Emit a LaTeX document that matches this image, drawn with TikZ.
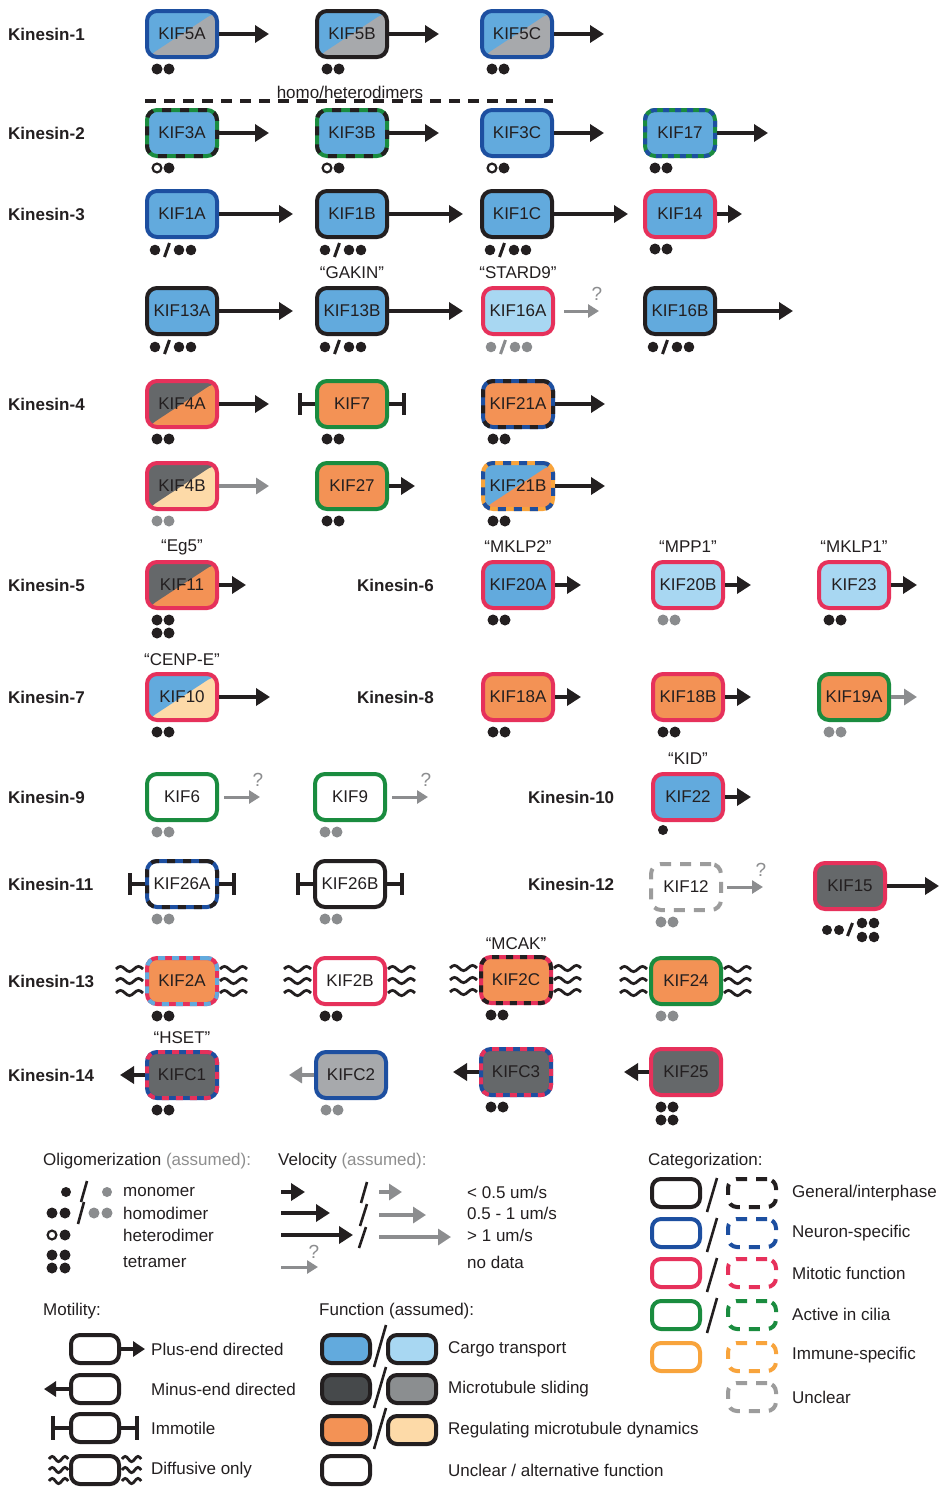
\documentclass[tikz,border=0pt]{standalone}
\usepackage{fontspec}
\setmainfont{Liberation Sans}
\usetikzlibrary{arrows.meta}
\definecolor{kblack}{HTML}{231F20}
\definecolor{kblue}{HTML}{1D4FA0}
\definecolor{kred}{HTML}{E6315B}
\definecolor{kgreen}{HTML}{1A8C3F}
\definecolor{korange}{HTML}{F8A43C}
\definecolor{kgrayb}{HTML}{9C9C9C}
\definecolor{fblue}{HTML}{62AADD}
\definecolor{flblue}{HTML}{A8D7F2}
\definecolor{fdgray}{HTML}{65686A}
\definecolor{fgray}{HTML}{A7A9AC}
\definecolor{fddgray}{HTML}{46494B}
\definecolor{fmgray}{HTML}{8B8E90}
\definecolor{forange}{HTML}{F39255}
\definecolor{florange}{HTML}{FDDAA8}
\definecolor{arrgray}{HTML}{8C8D8F}
\definecolor{dotgray}{HTML}{8A8C8E}
\definecolor{txtgray}{HTML}{8E8E8E}
\newcommand\KFont{\fontsize{17}{20}\selectfont}
\newcommand\QFont{\fontsize{19}{22}\selectfont}
% oligomer marks
\newcommand\OlDD[2]{\fill[#2] ([shift={(-25,35)}]#1.center) circle[radius=5.5pt] ([shift={(-13,35)}]#1.center) circle[radius=5.5pt];}
\newcommand\OlOD[1]{\draw[line width=2.2pt, fill=white, draw=kblack] ([shift={(-25,35)}]#1.center) circle[radius=4.4pt]; \fill[kblack] ([shift={(-13,35)}]#1.center) circle[radius=5.5pt];}
\newcommand\OlMDD[2]{\fill[#2] ([shift={(-27,36)}]#1.center) circle[radius=5.3pt] ([shift={(-3,36)}]#1.center) circle[radius=5.3pt] ([shift={(9,36)}]#1.center) circle[radius=5.3pt]; \draw[#2, line width=3pt] ([shift={(-17.5,43)}]#1.center) -- ([shift={(-12.5,29)}]#1.center);}
\newcommand\OlT[2]{\fill[#2] ([shift={(-25,35)}]#1.center) circle[radius=5.5pt] ([shift={(-13,35)}]#1.center) circle[radius=5.5pt] ([shift={(-25,48)}]#1.center) circle[radius=5.5pt] ([shift={(-13,48)}]#1.center) circle[radius=5.5pt];}
\newcommand\Tends[1]{\draw[tend] (#1.west) -- ++(-15,0) ++(0,-11) -- ++(0,22); \draw[tend] (#1.east) -- ++(15,0) ++(0,-11) -- ++(0,22);}
\newcommand\Waves[1]{\foreach \dy in {-12,0,12}{\draw[wav] ([shift={(-29,\dy)}]#1.west) sin ++(4.5,-2.6) cos ++(4.5,2.6) sin ++(4.5,2.6) cos ++(4.5,-2.6) sin ++(4.5,-2.6) cos ++(4.5,2.6); \draw[wav] ([shift={(1,\dy)}]#1.east) sin ++(4.5,-2.6) cos ++(4.5,2.6) sin ++(4.5,2.6) cos ++(4.5,-2.6) sin ++(4.5,-2.6) cos ++(4.5,2.6);}}
\newcommand\WavesS[1]{\foreach \dy in {-11,0,11}{\draw[wav] ([shift={(-20,\dy)}]#1.west) sin ++(3.2,-2.6) cos ++(3.2,2.6) sin ++(3.2,2.6) cos ++(3.2,-2.6) sin ++(3.2,-2.6) cos ++(3.2,2.6); \draw[wav] ([shift={(1,\dy)}]#1.east) sin ++(3.2,-2.6) cos ++(3.2,2.6) sin ++(3.2,2.6) cos ++(3.2,-2.6) sin ++(3.2,-2.6) cos ++(3.2,2.6);}}
\begin{document}
\begin{tikzpicture}[x=1pt,y=-1pt,
  kin/.style={draw, rounded corners=10pt, minimum width=70pt, minimum height=46pt, inner sep=0pt, line width=4pt, font=\KFont, text=kblack},
  split/.style 2 args={fill=#1, path picture={\fill[#2] (path picture bounding box.south west) -- (path picture bounding box.north east) -- (path picture bounding box.south east) -- cycle;}},
  dtwo/.style n args={3}{draw=#1, postaction={draw=#2, line width=4pt, dash pattern=on #3 off #3}},
  klab/.style={anchor=west, font=\KFont\bfseries, inner sep=0pt, text=kblack},
  qlab/.style={font=\KFont, inner sep=0pt, text=kblack},
  ltxt/.style={anchor=west, font=\KFont, inner sep=0pt, text=kblack},
  qm/.style={font=\QFont, inner sep=0pt, text=arrgray},
  pa/.style={line width=4pt, draw=kblack, -{Triangle[length=14pt,width=17pt]}},
  ga/.style={line width=3.6pt, draw=arrgray, -{Triangle[length=13pt,width=16pt]}},
  qa/.style={line width=3pt, draw=arrgray, -{Triangle[length=11pt,width=13pt]}},
  tend/.style={line width=3.5pt, draw=kblack},
  wav/.style={line width=2.8pt, draw=kblack},
  lbox/.style={draw, rounded corners=9pt, minimum width=48pt, minimum height=28pt, inner sep=0pt, line width=4pt},
  ldash/.style={lbox, draw=#1, dash pattern=on 11pt off 9pt},
  sl/.style={line width=2.6pt, draw=kblack}
]
\useasboundingbox (0,0) rectangle (941,1489);
\fill[white] (0,0) rectangle (941,1489);

% ---------- Kinesin-1
\node[klab] (k1) at (8,34) {Kinesin-1};
\node[kin, draw=kblue, split={fblue}{fgray}] (kif5a) at (182,34) {KIF5A};
\node[kin, draw=kblack, split={fblue}{fgray}] (kif5b) at (352,34) {KIF5B};
\node[kin, draw=kblue, split={fblue}{fgray}] (kif5c) at (517,34) {KIF5C};
\draw[pa] (kif5a.east) -- ++(50,0);
\draw[pa] (kif5b.east) -- ++(50,0);
\draw[pa] (kif5c.east) -- ++(50,0);
\OlDD{kif5a}{kblack}\OlDD{kif5b}{kblack}\OlDD{kif5c}{kblack}

\coordinate (hd1) at (145,101); \coordinate (hd2) at (553,101);
\draw[line width=3.5pt, kblack, dash pattern=on 11pt off 8pt] (hd1) -- (hd2);
\node[qlab] (hdlab) at (350,92) {homo/heterodimers};

% ---------- Kinesin-2
\node[klab] (k2) at (8,133) {Kinesin-2};
\node[kin, fill=fblue, dtwo={kgreen}{kblack}{9pt}] (kif3a) at (182,133) {KIF3A};
\node[kin, fill=fblue, dtwo={kgreen}{kblack}{9pt}] (kif3b) at (352,133) {KIF3B};
\node[kin, fill=fblue, draw=kblue] (kif3c) at (517,133) {KIF3C};
\node[kin, fill=fblue, dtwo={kgreen}{kblue}{6pt}] (kif17) at (680,133) {KIF17};
\draw[pa] (kif3a.east) -- ++(50,0);
\draw[pa] (kif3b.east) -- ++(50,0);
\draw[pa] (kif3c.east) -- ++(50,0);
\draw[pa] (kif17.east) -- ++(51,0);
\OlOD{kif3a}\OlOD{kif3b}\OlOD{kif3c}\OlDD{kif17}{kblack}

% ---------- Kinesin-3
\node[klab] (k3) at (8,214) {Kinesin-3};
\node[kin, fill=fblue, draw=kblue] (kif1a) at (182,214) {KIF1A};
\node[kin, fill=fblue, draw=kblack] (kif1b) at (352,214) {KIF1B};
\node[kin, fill=fblue, draw=kblack] (kif1c) at (517,214) {KIF1C};
\node[kin, fill=fblue, draw=kred] (kif14) at (680,214) {KIF14};
\draw[pa] (kif1a.east) -- ++(74,0);
\draw[pa] (kif1b.east) -- ++(74,0);
\draw[pa] (kif1c.east) -- ++(74,0);
\draw[pa] (kif14.east) -- ++(25,0);
\OlMDD{kif1a}{kblack}\OlMDD{kif1b}{kblack}\OlMDD{kif1c}{kblack}\OlDD{kif14}{kblack}

\node[qlab] (gakin) at (352,273) {“GAKIN”};
\node[qlab] (stard9) at (518,273) {“STARD9”};
\node[kin, fill=fblue, draw=kblack] (kif13a) at (182,311) {KIF13A};
\node[kin, fill=fblue, draw=kblack] (kif13b) at (352,311) {KIF13B};
\node[kin, fill=flblue, draw=kred] (kif16a) at (518,311) {KIF16A};
\node[kin, fill=fblue, draw=kblack] (kif16b) at (680,311) {KIF16B};
\draw[pa] (kif13a.east) -- ++(74,0);
\draw[pa] (kif13b.east) -- ++(74,0);
\draw[qa] ([xshift=9pt]kif16a.east) -- ++(35,0) coordinate (q16);
\node[qm] (q16m) at ([shift={(-2,-17)}]q16) {?};
\draw[pa] (kif16b.east) -- ++(76,0);
\OlMDD{kif13a}{kblack}\OlMDD{kif13b}{kblack}\OlMDD{kif16a}{dotgray}\OlMDD{kif16b}{kblack}

% ---------- Kinesin-4
\node[klab] (k4) at (8,404) {Kinesin-4};
\node[kin, draw=kred, split={fdgray}{forange}] (kif4a) at (182,404) {KIF4A};
\node[kin, fill=forange, draw=kgreen] (kif7) at (352,404) {KIF7};
\node[kin, fill=forange, dtwo={kblue}{kblack}{8pt}] (kif21a) at (518,404) {KIF21A};
\draw[pa] (kif4a.east) -- ++(50,0);
\Tends{kif7}
\draw[pa] (kif21a.east) -- ++(50,0);
\OlDD{kif4a}{kblack}\OlDD{kif7}{kblack}\OlDD{kif21a}{kblack}

\node[kin, draw=kred, split={fdgray}{florange}] (kif4b) at (182,486) {KIF4B};
\node[kin, fill=forange, draw=kgreen] (kif27) at (352,486) {KIF27};
\node[kin, split={fblue}{forange}, dtwo={korange}{kblue}{8pt}] (kif21b) at (518,486) {KIF21B};
\draw[ga] (kif4b.east) -- ++(50,0);
\draw[pa] (kif27.east) -- ++(26,0);
\draw[pa] (kif21b.east) -- ++(50,0);
\OlDD{kif4b}{dotgray}\OlDD{kif27}{kblack}\OlDD{kif21b}{kblack}

% ---------- Kinesin-5 / 6
\node[klab] (k5) at (8,585) {Kinesin-5};
\node[klab] (k6) at (357,585) {Kinesin-6};
\node[qlab] (eg5) at (182,547) {“Eg5”};
\node[qlab] (mklp2) at (518,547) {“MKLP2”};
\node[qlab] (mpp1) at (688,547) {“MPP1”};
\node[qlab] (mklp1) at (854,547) {“MKLP1”};
\node[kin, draw=kred, split={fdgray}{forange}] (kif11) at (182,585) {KIF11};
\node[kin, fill=fblue, draw=kred] (kif20a) at (518,585) {KIF20A};
\node[kin, fill=flblue, draw=kred] (kif20b) at (688,585) {KIF20B};
\node[kin, fill=flblue, draw=kred] (kif23) at (854,585) {KIF23};
\draw[pa] (kif11.east) -- ++(27,0);
\draw[pa] (kif20a.east) -- ++(26,0);
\draw[pa] (kif20b.east) -- ++(26,0);
\draw[pa] (kif23.east) -- ++(26,0);
\OlT{kif11}{kblack}\OlDD{kif20a}{kblack}\OlDD{kif20b}{dotgray}\OlDD{kif23}{kblack}

% ---------- Kinesin-7 / 8
\node[klab] (k7) at (8,697) {Kinesin-7};
\node[klab] (k8) at (357,697) {Kinesin-8};
\node[qlab] (cenpe) at (182,660) {“CENP-E”};
\node[kin, draw=kred, split={fblue}{florange}] (kif10) at (182,697) {KIF10};
\node[kin, fill=forange, draw=kred] (kif18a) at (518,697) {KIF18A};
\node[kin, fill=forange, draw=kred] (kif18b) at (688,697) {KIF18B};
\node[kin, fill=forange, draw=kgreen] (kif19a) at (854,697) {KIF19A};
\draw[pa] (kif10.east) -- ++(51,0);
\draw[pa] (kif18a.east) -- ++(26,0);
\draw[pa] (kif18b.east) -- ++(26,0);
\draw[ga] (kif19a.east) -- ++(26,0);
\OlDD{kif10}{kblack}\OlDD{kif18a}{kblack}\OlDD{kif18b}{kblack}\OlDD{kif19a}{dotgray}

% ---------- Kinesin-9 / 10
\node[klab] (k9) at (8,797) {Kinesin-9};
\node[klab] (k10) at (528,797) {Kinesin-10};
\node[qlab] (kid) at (688,759) {“KID”};
\node[kin, fill=white, draw=kgreen] (kif6) at (182,797) {KIF6};
\node[kin, fill=white, draw=kgreen] (kif9) at (350,797) {KIF9};
\node[kin, fill=fblue, draw=kred] (kif22) at (688,797) {KIF22};
\draw[qa] ([xshift=5pt]kif6.east) -- ++(36,0) coordinate (q6);
\node[qm] (q6m) at ([shift={(-2,-17)}]q6) {?};
\draw[qa] ([xshift=5pt]kif9.east) -- ++(36,0) coordinate (q9);
\node[qm] (q9m) at ([shift={(-2,-17)}]q9) {?};
\draw[pa] (kif22.east) -- ++(26,0);
\OlDD{kif6}{dotgray}\OlDD{kif9}{dotgray}
\fill[kblack] ([shift={(-25,33)}]kif22.center) circle[radius=5pt];

% ---------- Kinesin-11 / 12
\node[klab] (k11) at (8,884) {Kinesin-11};
\node[klab] (k12) at (528,884) {Kinesin-12};
\node[kin, fill=white, dtwo={kblue}{kblack}{8pt}] (kif26a) at (182,884) {KIF26A};
\node[kin, fill=white, draw=kblack] (kif26b) at (350,884) {KIF26B};
\node[kin, fill=white, draw=kgrayb, dash pattern=on 11pt off 9pt] (kif12) at (686,887) {KIF12};
\node[kin, fill=fdgray, draw=kred] (kif15) at (850,886) {KIF15};
\Tends{kif26a}\Tends{kif26b}
\draw[qa] ([xshift=4pt]kif12.east) -- ++(36,0) coordinate (q12);
\node[qm] (q12m) at ([shift={(-2,-17)}]q12) {?};
\draw[pa] (kif15.east) -- ++(52,0);
\OlDD{kif26a}{dotgray}\OlDD{kif26b}{dotgray}\OlDD{kif12}{dotgray}
\fill[kblack] ([shift={(-23,44)}]kif15.center) circle[radius=5pt] ([shift={(-11,44)}]kif15.center) circle[radius=5pt]
  ([shift={(12,37)}]kif15.center) circle[radius=5.3pt] ([shift={(24,37)}]kif15.center) circle[radius=5.3pt]
  ([shift={(12,51)}]kif15.center) circle[radius=5.3pt] ([shift={(24,51)}]kif15.center) circle[radius=5.3pt];
\draw[kblack, line width=3pt] ([shift={(-2.5,50)}]kif15.center) -- ([shift={(2.5,37)}]kif15.center);

% ---------- Kinesin-13
\node[klab] (k13) at (8,981) {Kinesin-13};
\node[qlab] (mcak) at (516,944) {“MCAK”};
\node[kin, fill=forange, dtwo={kred}{fblue}{7pt}] (kif2a) at (182,981) {KIF2A};
\node[kin, fill=white, draw=kred] (kif2b) at (350,981) {KIF2B};
\node[kin, fill=forange, dtwo={kred}{kblack}{7pt}] (kif2c) at (516,980) {KIF2C};
\node[kin, fill=forange, draw=kgreen] (kif24) at (686,981) {KIF24};
\Waves{kif2a}\Waves{kif2b}\Waves{kif2c}\Waves{kif24}
\OlDD{kif2a}{kblack}\OlDD{kif2b}{kblack}\OlDD{kif2c}{kblack}\OlDD{kif24}{dotgray}

% ---------- Kinesin-14
\node[klab] (k14) at (8,1075) {Kinesin-14};
\node[qlab] (hset) at (182,1038) {“HSET”};
\node[kin, fill=fdgray, dtwo={kblue}{kred}{7pt}] (kifc1) at (182,1075) {KIFC1};
\node[kin, fill=fgray, draw=kblue] (kifc2) at (351,1075) {KIFC2};
\node[kin, fill=fdgray, dtwo={kblue}{kred}{7pt}] (kifc3) at (516,1072) {KIFC3};
\node[kin, fill=fdgray, draw=kred] (kif25) at (686,1072) {KIF25};
\draw[pa] (kifc1.west) -- ++(-25,0);
\draw[ga] (kifc2.west) -- ++(-25,0);
\draw[pa] (kifc3.west) -- ++(-26,0);
\draw[pa] (kif25.west) -- ++(-25,0);
\OlDD{kifc1}{kblack}\OlDD{kifc2}{dotgray}\OlDD{kifc3}{kblack}\OlT{kif25}{kblack}

% ================= Legend
% Oligomerization
\node[ltxt] (olig) at (43,1161) {Oligomerization \textcolor{txtgray}{(assumed):}};
\fill[kblack] (66,1192) circle[radius=5pt];
\fill[dotgray] (107,1192) circle[radius=5pt];
\draw[sl] (81,1202) -- (87,1181);
\fill[kblack] (52,1213) circle[radius=5.5pt] (65,1213) circle[radius=5.5pt];
\fill[dotgray] (94,1213) circle[radius=5.5pt] (107,1213) circle[radius=5.5pt];
\draw[sl] (78,1224) -- (84,1202);
\draw[line width=2.2pt, fill=white, draw=kblack] (52,1235) circle[radius=4.4pt];
\fill[kblack] (65,1235) circle[radius=5.5pt];
\fill[kblack] (52,1255) circle[radius=5.5pt] (65,1255) circle[radius=5.5pt] (52,1268) circle[radius=5.5pt] (65,1268) circle[radius=5.5pt];
\node[ltxt] (mono) at (123,1192) {monomer};
\node[ltxt] (homo) at (123,1213) {homodimer};
\node[ltxt] (hetero) at (123,1235) {heterodimer};
\node[ltxt] (tetra) at (123,1262) {tetramer};

% Velocity
\node[ltxt] (velo) at (278,1161) {Velocity \textcolor{txtgray}{(assumed):}};
\coordinate (v1) at (281,1192); \coordinate (v2) at (281,1213); \coordinate (v3) at (281,1235);
\draw[pa] (v1) -- ++(24,0);
\draw[pa] (v2) -- ++(49,0);
\draw[pa] (v3) -- ++(72,0);
\draw[sl] (361,1203) -- (367,1182);
\draw[sl] (360,1226) -- (367,1204);
\draw[sl] (359,1248) -- (366,1227);
\coordinate (g1) at (379,1192); \coordinate (g2) at (379,1215); \coordinate (g3) at (379,1237);
\draw[ga] (g1) -- ++(23,0);
\draw[ga] (g2) -- ++(47,0);
\draw[ga] (g3) -- ++(72,0);
\coordinate (g4) at (281,1267);
\draw[qa] (g4) -- ++(37,0) coordinate (qv);
\node[qm] (qvm) at ([shift={(-4,-15)}]qv) {?};
\node[ltxt] (vt1) at (467,1192) {< 0.5 um/s};
\node[ltxt] (vt2) at (467,1213) {0.5 - 1 um/s};
\node[ltxt] (vt3) at (467,1235) {> 1 um/s};
\node[ltxt] (vt4) at (467,1262) {no data};

% Categorization
\node[ltxt] (cat) at (648,1161) {Categorization:};
\node[lbox, draw=kblack] (cs1) at (676,1193) {};
\node[lbox, draw=kblue] (cs2) at (676,1233) {};
\node[lbox, draw=kred] (cs3) at (676,1273) {};
\node[lbox, draw=kgreen] (cs4) at (676,1315) {};
\node[lbox, draw=korange] (cs5) at (676,1357) {};
\node[ldash=kblack] (cd1) at (752,1193) {};
\node[ldash=kblue] (cd2) at (752,1233) {};
\node[ldash=kred] (cd3) at (752,1273) {};
\node[ldash=kgreen] (cd4) at (752,1315) {};
\node[ldash=korange] (cd5) at (752,1357) {};
\node[ldash=kgrayb] (cd6) at (752,1397) {};
\draw[sl] (707,1212) -- (717,1178);
\draw[sl] (707,1252) -- (717,1218);
\draw[sl] (707,1292) -- (717,1258);
\draw[sl] (707,1333) -- (717,1298);
\node[ltxt] (ct1) at (792,1193) {General/interphase};
\node[ltxt] (ct2) at (792,1233) {Neuron-specific};
\node[ltxt] (ct3) at (792,1273) {Mitotic function};
\node[ltxt] (ct4) at (792,1314) {Active in cilia};
\node[ltxt] (ct5) at (792,1355) {Immune-specific};
\node[ltxt] (ct6) at (792,1397) {Unclear};

% Motility
\node[ltxt] (mot) at (43,1311) {Motility:};
\node[lbox, draw=kblack] (m1) at (95,1349) {};
\node[lbox, draw=kblack] (m2) at (95,1389) {};
\node[lbox, draw=kblack] (m3) at (95,1428) {};
\node[lbox, draw=kblack] (m4) at (95,1470) {};
\draw[line width=3.5pt, draw=kblack, -{Triangle[length=12pt,width=15pt]}] (m1.east) -- ++(24,0);
\draw[line width=3.5pt, draw=kblack, -{Triangle[length=12pt,width=15pt]}] (m2.west) -- ++(-25,0);
\draw[tend] (m3.west) -- ++(-16,0) ++(0,-12) -- ++(0,24);
\draw[tend] (m3.east) -- ++(16,0) ++(0,-12) -- ++(0,24);
\WavesS{m4}
\node[ltxt] (mt1) at (151,1349) {Plus-end directed};
\node[ltxt] (mt2) at (151,1389) {Minus-end directed};
\node[ltxt] (mt3) at (151,1428) {Immotile};
\node[ltxt] (mt4) at (151,1470) {Diffusive only};

% Function
\node[ltxt] (fun) at (319,1311) {Function (assumed):};
\node[lbox, draw=kblack, fill=fblue] (f1a) at (346,1349) {};
\node[lbox, draw=kblack, fill=flblue] (f1b) at (412,1349) {};
\node[lbox, draw=kblack, fill=fddgray] (f2a) at (346,1389) {};
\node[lbox, draw=kblack, fill=fmgray] (f2b) at (412,1389) {};
\node[lbox, draw=kblack, fill=forange] (f3a) at (346,1430) {};
\node[lbox, draw=kblack, fill=florange] (f3b) at (412,1430) {};
\node[lbox, draw=kblack, fill=white] (f4a) at (346,1470) {};
\draw[sl] (374,1367) -- (386,1325);
\draw[sl] (374,1408) -- (386,1367);
\draw[sl] (374,1449) -- (386,1408);
\node[ltxt] (ft1) at (448,1349) {Cargo transport};
\node[ltxt] (ft2) at (448,1389) {Microtubule sliding};
\node[ltxt] (ft3) at (448,1430) {Regulating microtubule dynamics};
\node[ltxt] (ft4) at (448,1470) {Unclear / alternative function};
\end{tikzpicture}
\end{document}
